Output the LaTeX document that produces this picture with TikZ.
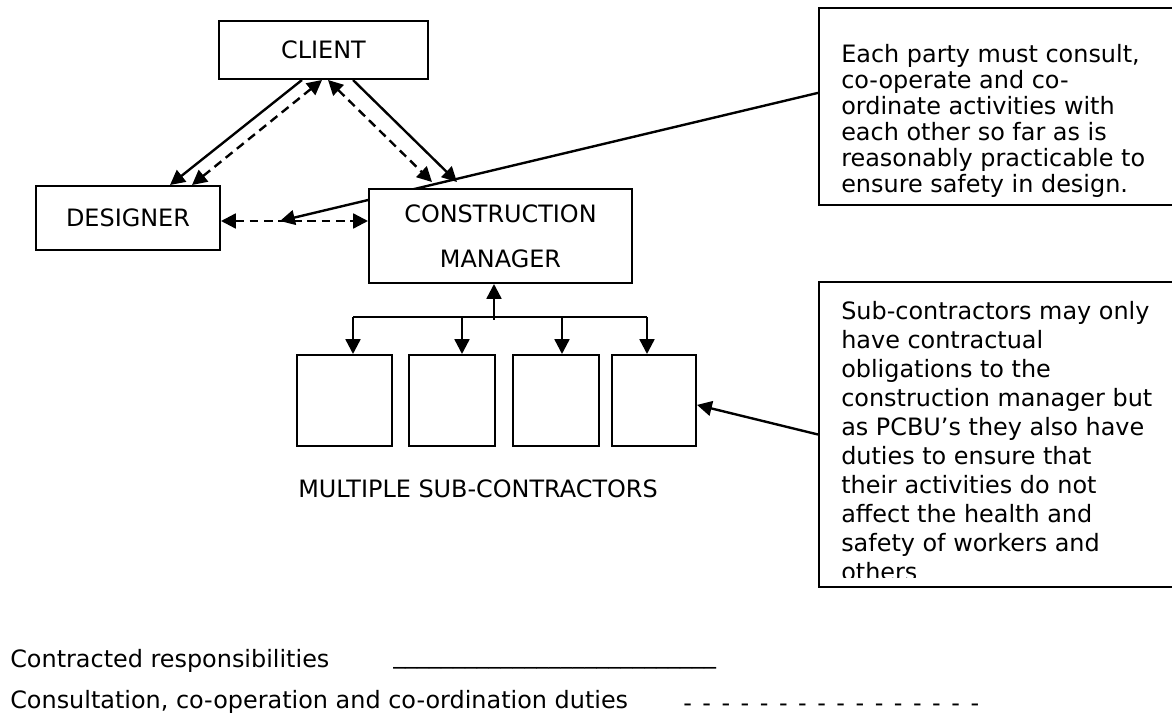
\documentclass[tikz,border=0pt]{standalone}
\usepackage{fontspec}
\setmainfont{DejaVu Sans}
\usetikzlibrary{arrows.meta,backgrounds}

\begin{document}
\begin{tikzpicture}
[x=0.025cm,y=-0.025cm,%
  lineDecorate/.style={line width=1.7pt},%
  solidArrow/.style={line width=1.7pt,-{Triangle[length=0.37cm,width=0.37cm]}},%
  dashArrow/.style={line width=1.7pt,dash pattern=on 0.22cm off 0.14cm,{Triangle[length=0.37cm,width=0.37cm]}-{Triangle[length=0.37cm,width=0.37cm]}},%
  boxDecorate/.style={shape=rectangle,draw,line width=1.4pt,fill=white,inner sep=0pt,font=\fontsize{17}{32}\selectfont},%
  textDecorate/.style={inner sep=0pt,font=\fontsize{17}{20}\selectfont}]
\useasboundingbox (0,0) rectangle (1172,715);
\clip (0,0) rectangle (1172,715);
%% parties
\node (client) at (323.5,50) [boxDecorate,minimum width=5.225cm,minimum height=1.45cm] {CLIENT};
\node (designer) at (128,218) [boxDecorate,minimum width=4.6cm,minimum height=1.6cm] {DESIGNER};
\node (cm) at (500.5,236) [boxDecorate,align=center,minimum width=6.575cm,minimum height=2.35cm] {CONSTRUCTION\\MANAGER};
\foreach \n/\x/\w in {1/344.5/2.375cm, 2/452/2.15cm, 3/556/2.15cm, 4/654/2.1cm}
{
  \node (sub\n) at (\x,400.5) [boxDecorate,minimum width=\w,minimum height=2.275cm] {};
}
\node (multiLabel) at (298,489) [textDecorate,anchor=west] {MULTIPLE SUB-CONTRACTORS};
%% notes
\node (note1) at (1004.5,106.5) [boxDecorate,minimum width=9.275cm,minimum height=4.925cm] {};
\node (note1Text) at (841,44) [textDecorate,anchor=north west,align=left,font=\fontsize{17}{18.5}\selectfont]
  {Each party must consult,\\co-operate and co-\\ordinate activities with\\each other so far as is\\reasonably practicable to\\ensure safety in design.};
\node (note2) at (1004.5,434.5) [boxDecorate,minimum width=9.275cm,minimum height=7.625cm] {};
\begin{scope}
  \clip (819,282) rectangle (1172,577);
  \node (note2Text) at (841,301) [textDecorate,anchor=north west,align=left,font=\fontsize{17}{20.6}\selectfont]
    {Sub-contractors may only\\have contractual\\obligations to the\\construction manager but\\as PCBU’s they also have\\duties to ensure that\\their activities do not\\affect the health and\\safety of workers and\\others};
\end{scope}
%% edges
\coordinate (meet) at (280,221);
\draw[solidArrow] ([xshift=-0.5375cm]client.south) -- ([xshift=1.05cm]designer.north);
\draw[dashArrow] ([xshift=-0.0375cm]client.south) -- ([xshift=1.6cm]designer.north);
\draw[dashArrow] ([xshift=0.1125cm]client.south) -- ([xshift=-1.7125cm,yshift=0.15cm]cm.north);
\draw[solidArrow] ([xshift=0.7375cm]client.south) -- ([xshift=-1.0875cm,yshift=0.15cm]cm.north);
\draw[dashArrow] (designer.east |- meet) -- (cm.west |- meet);
\begin{pgfonlayer}{background}
  \draw[solidArrow] ([yshift=0.34cm]note1.west) -- (meet);
\end{pgfonlayer}
\draw[solidArrow] (note2.west) -- ([yshift=-0.11cm]sub4.east);
%% sub-contractor links
\foreach \n/\x in {1/353, 2/462, 3/562, 4/647}
{
  \coordinate (bus\n) at (\x,317);
  \draw[solidArrow] (bus\n) -- (bus\n |- sub\n.north);
}
\draw[lineDecorate] (bus1) -- (bus4);
\coordinate (busUp) at (494,320);
\draw[solidArrow] (busUp) -- (busUp |- cm.south);
%% legend
\node (legendA) at (10,667) [textDecorate,anchor=base west] {Contracted responsibilities};
\node (legendALine) at (393,663) [textDecorate,anchor=base west] {\_\_\_\_\_\_\_\_\_\_\_\_\_\_\_\_\_\_\_\_\_\_\_\_\_\_\_};
\node (legendB) at (10,708) [textDecorate,anchor=base west] {Consultation, co-operation and co-ordination duties};
\node (legendBLine) at (683,711) [textDecorate,anchor=base west] {\spaceskip=0.44em\relax - - - - - - - - - - - - - - - -};
\end{tikzpicture}
\end{document}
